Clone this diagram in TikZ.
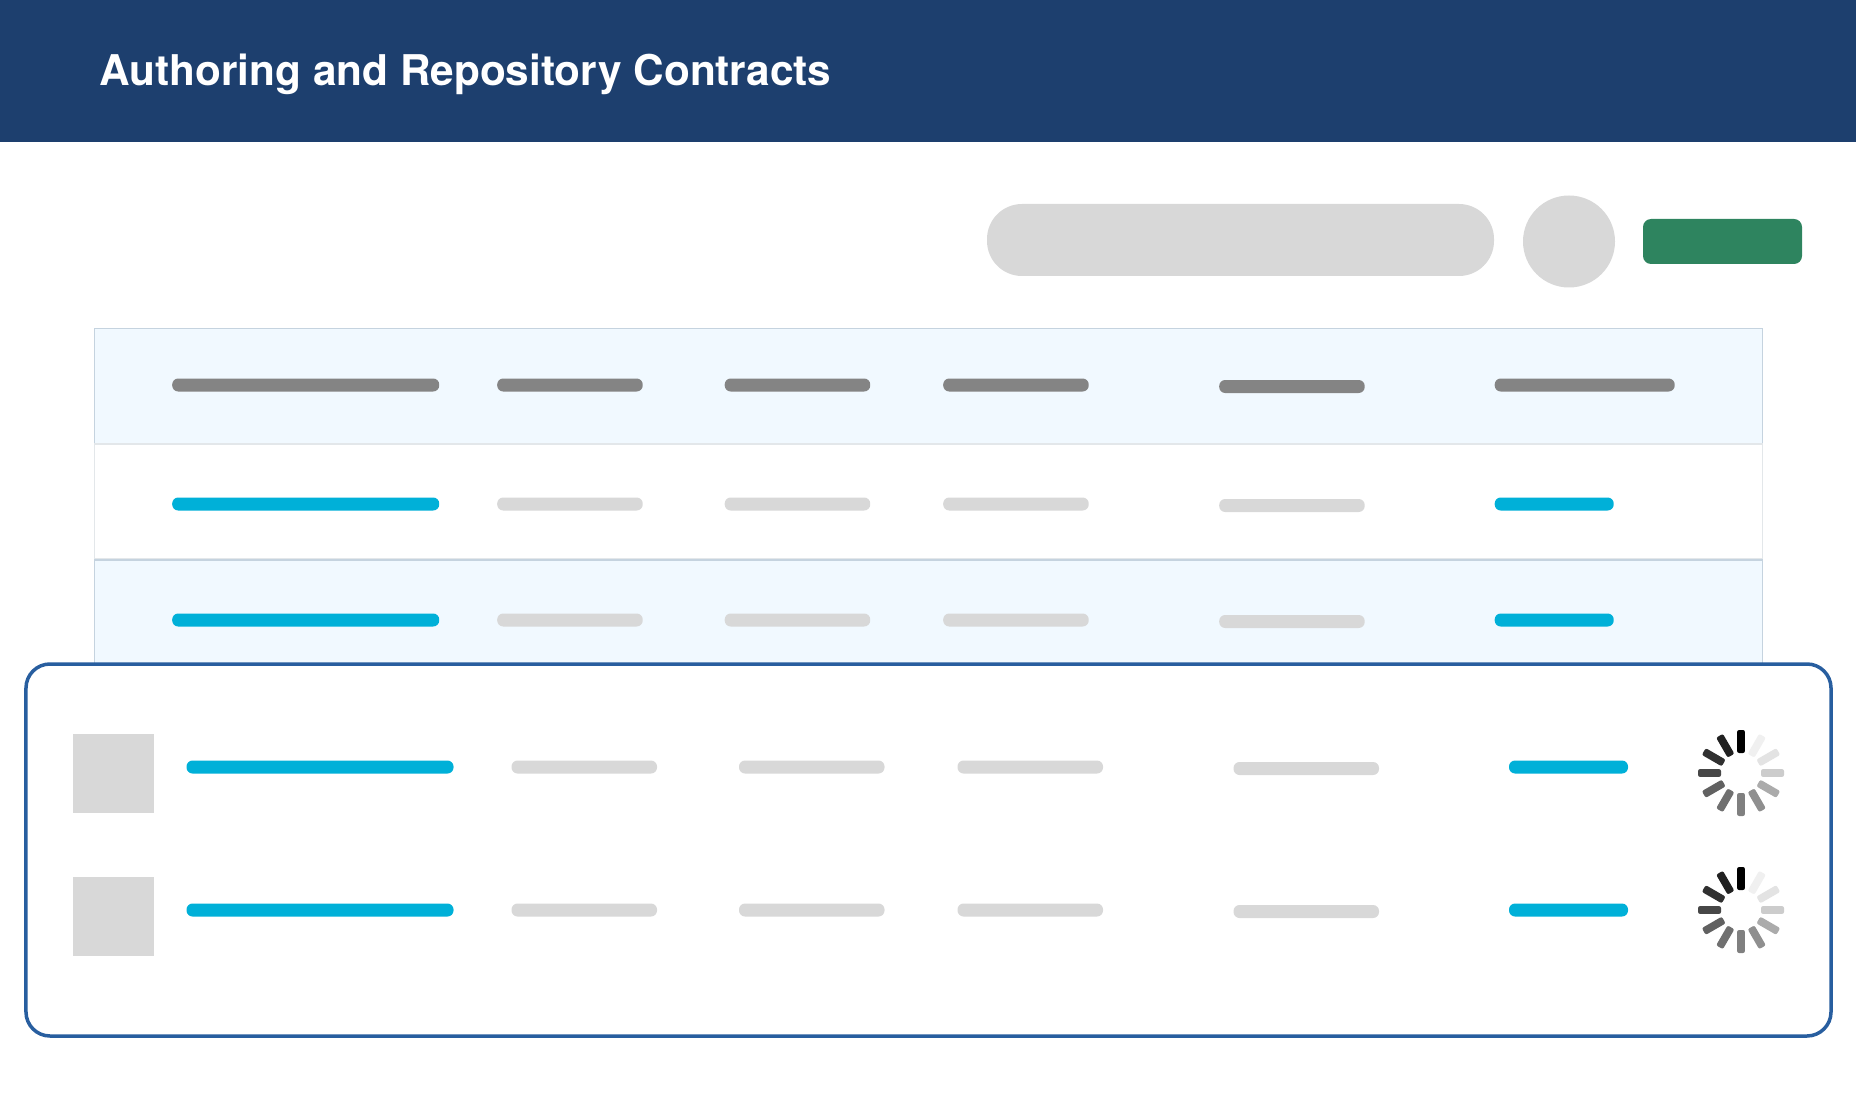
\documentclass[tikz,border=0pt]{standalone}
\usepackage{fontspec}
\setmainfont{TeX Gyre Heros}
\usepackage{tikz}
\usetikzlibrary{positioning}

\definecolor{navy}{HTML}{1D3F6E}
\definecolor{paleblue}{HTML}{F1F9FF}
\definecolor{rowline}{HTML}{C5D3DF}
\definecolor{rowlinelight}{HTML}{E3E7EA}
\definecolor{cyanbar}{HTML}{00B0D8}
\definecolor{greybar}{HTML}{848484}
\definecolor{lightgrey}{HTML}{D8D8D8}
\definecolor{framblue}{HTML}{285E9F}
\definecolor{addgreen}{HTML}{2E845F}

\tikzset{
	bar/.style		= {anchor=west, inner sep=0, outer sep=0, minimum height=.13cm, rounded corners=.06cm},
	head/.style		= {bar, fill=greybar},
	link/.style		= {bar, fill=cyanbar, minimum width=#1},
	link/.default	= 2.67cm,
	cell/.style		= {bar, fill=lightgrey, minimum width=1.455cm},
	rowbox/.style	= {anchor=north west, inner sep=0, outer sep=0, minimum width=16.68cm, minimum height=1.15cm, line width=.014cm},
	thumb/.style	= {anchor=north west, inner sep=0, outer sep=0, fill=lightgrey, minimum width=.81cm, minimum height=.785cm},
	spoke/.style	= {inner sep=0, outer sep=0, minimum width=.23cm, minimum height=.078cm, rounded corners=.02cm}
}

\begin{document}
\begin{tikzpicture}[x=1cm, y=-1cm, node distance=.58cm]

\useasboundingbox (0,0) rectangle (18.56,11.03);

\fill[navy]											(0,0) rectangle (18.56,1.42);
\node[anchor=base west, inner sep=0, text=white]	(title)	at (.99,.86)	{\fontsize{12.04pt}{14pt}\selectfont\bfseries Authoring and Repository Contracts};

\node[fill=lightgrey, inner sep=0, outer sep=0, minimum width=5.07cm, minimum height=.72cm, rounded corners=.35cm]	(search)	at (12.405,2.40)	{};
\node[fill=lightgrey, inner sep=0, outer sep=0, circle, minimum size=.92cm]											(avatar)	at (15.69,2.415)	{};
\node[fill=addgreen, inner sep=0, outer sep=0, minimum width=1.59cm, minimum height=.45cm, rounded corners=.08cm]	(add)		at (17.225,2.415)	{};

\node[rowbox, fill=paleblue, draw=rowline]		(row1)	at (.945,3.285)	{};
\node[rowbox, fill=white, draw=rowlinelight]	(row2)	at (.945,4.44)	{};
\node[rowbox, fill=paleblue, draw=rowline]		(row3)	at (.945,5.60)	{};

\node[head, minimum width=2.67cm]					(h1)					at (1.722,3.85)	{};
\node[head, minimum width=1.455cm]					(h2)	[right=of h1]					{};
\node[head, minimum width=1.455cm]					(h3)	[right=.82cm of h2]				{};
\node[head, minimum width=1.455cm]					(h4)	[right=.73cm of h3]				{};
\node[head, minimum width=1.455cm, yshift=-.015cm]	(h5)	[right=1.305cm of h4]			{};
\node[head, minimum width=1.80cm]					(h6)	[right=1.30cm of h5, yshift=.015cm]	{};

\node[link]						(a1)					at (1.722,5.04)	{};
\node[cell]						(a2)	[right=of a1]					{};
\node[cell]						(a3)	[right=.82cm of a2]				{};
\node[cell]						(a4)	[right=.73cm of a3]				{};
\node[cell, yshift=-.015cm]		(a5)	[right=1.305cm of a4]			{};
\node[link=1.19cm]				(a6)	[right=1.30cm of a5, yshift=.015cm]	{};

\node[link]						(b1)					at (1.722,6.20)	{};
\node[cell]						(b2)	[right=of b1]					{};
\node[cell]						(b3)	[right=.82cm of b2]				{};
\node[cell]						(b4)	[right=.73cm of b3]				{};
\node[cell, yshift=-.015cm]		(b5)	[right=1.305cm of b4]			{};
\node[link=1.19cm]				(b6)	[right=1.30cm of b5, yshift=.015cm]	{};

\node[anchor=north west, inner sep=0, outer sep=0, fill=white, draw=framblue, line width=.035cm, rounded corners=.24cm, minimum width=18.05cm, minimum height=3.72cm]	(frame)	at (.26,6.64)	{};

\node[thumb]	(t1)	at (.725,7.34)	{};
\node[thumb]	(t2)	at (.725,8.77)	{};

\node[link]						(c1)					at (1.865,7.67)	{};
\node[cell]						(c2)	[right=of c1]					{};
\node[cell]						(c3)	[right=.82cm of c2]				{};
\node[cell]						(c4)	[right=.73cm of c3]				{};
\node[cell, yshift=-.015cm]		(c5)	[right=1.305cm of c4]			{};
\node[link=1.19cm]				(c6)	[right=1.30cm of c5, yshift=.015cm]	{};

\node[link]						(d1)					at (1.865,9.10)	{};
\node[cell]						(d2)	[right=of d1]					{};
\node[cell]						(d3)	[right=.82cm of d2]				{};
\node[cell]						(d4)	[right=.73cm of d3]				{};
\node[cell, yshift=-.015cm]		(d5)	[right=1.305cm of d4]			{};
\node[link=1.19cm]				(d6)	[right=1.30cm of d5, yshift=.015cm]	{};

\coordinate (spin1) at (17.41,7.73);
\coordinate (spin2) at (17.41,9.10);

\foreach \s in {spin1, spin2}
	\foreach \a/\k in {90/100, 60/6, 30/11, 0/20, -30/33, -60/44, -90/50, -120/56, -150/62, 180/72, 150/81, 120/87}
		\node[spoke, fill=black!\k, rotate=\a]	(\s-\a)	at ([shift={(\a:.315cm)}]\s)	{};

\end{tikzpicture}
\end{document}
